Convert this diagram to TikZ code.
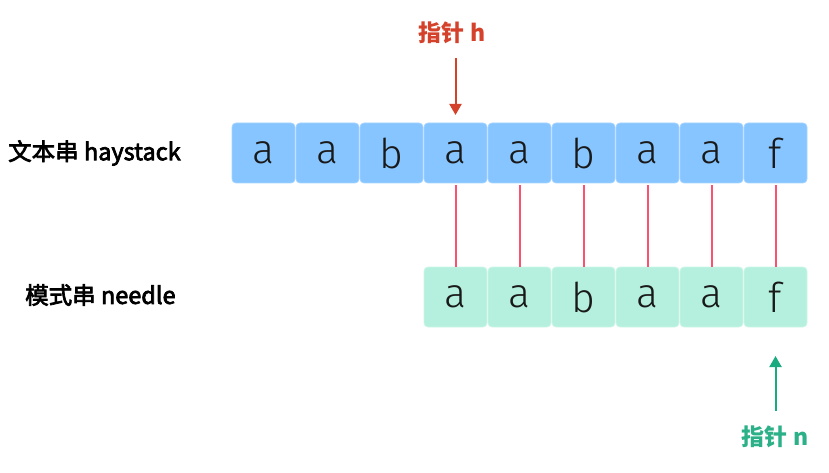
\documentclass[tikz,border=0pt]{standalone}
\usepackage{fontspec}
\setmainfont{Noto Sans CJK SC}
\newfontfamily\medfont[FakeBold=3]{Noto Sans CJK SC}
\newfontfamily\boxfont[UprightFont=* Light]{Fira Sans}
\usetikzlibrary{arrows.meta}
\definecolor{hayblue}{RGB}{134,197,255}
\definecolor{hayedge}{RGB}{165,212,255}
\definecolor{needgreen}{RGB}{180,240,221}
\definecolor{neededge}{RGB}{205,246,232}
\definecolor{linkred}{RGB}{250,82,112}
\definecolor{ptrred}{RGB}{213,66,43}
\definecolor{ptrgreen}{RGB}{26,170,127}
\definecolor{txtgreen}{RGB}{44,176,136}
\definecolor{txtdark}{RGB}{25,25,25}
\tikzset{
  cell/.style={minimum width=63pt, minimum height=60pt, inner sep=0pt, rounded corners=4pt, line width=0.8pt, text=txtdark, font=\boxfont\fontsize{41}{41}\selectfont},
  haycell/.style={cell, fill=hayblue, draw=hayedge},
  needcell/.style={cell, fill=needgreen, draw=neededge},
  conn/.style={linkred, line width=2pt},
  rowlabel/.style={font=\medfont\fontsize{23.5}{23.5}\selectfont, text=black, inner sep=0pt},
  ptrlabel/.style={font=\bfseries\fontsize{23}{23}\selectfont, inner sep=0pt},
  ptrline/.style={line width=2pt, -{Triangle[width=12pt,length=11pt]}}
}
\begin{document}
\begin{tikzpicture}[x=1pt,y=-1pt]
\useasboundingbox (0,0) rectangle (829,473);
% haystack row
\foreach \c [count=\i from 0] in {a,a,b,a,a,b,a,a,f} {
  \node[haycell] (h\i) at (263.5+64*\i,153) {\c};
}
% needle row
\foreach \c [count=\i from 3] in {a,a,b,a,a,f} {
  \node[needcell] (n\i) at (263.5+64*\i,297) {\c};
}
% links
\foreach \i in {3,...,8} {
  \draw[conn] ([yshift=-2pt]h\i.south) -- (n\i.north);
}
% row labels
\node[rowlabel, anchor=west] (lh) at (8,153) {文本串 haystack};
\node[rowlabel, anchor=west] (ln) at (25,295) {模式串 needle};
% pointer h
\node[ptrlabel, text=ptrred] (ph) at (452,33) {指针 h};
\coordinate (phs) at (455.5,58);
\coordinate (phe) at (455.5,115);
\draw[ptrline, ptrred] (phs) -- (phe);
% pointer n
\node[ptrlabel, text=txtgreen] (pn) at (775,437) {指针 n};
\coordinate (pns) at (775.5,411);
\coordinate (pne) at (775.5,356);
\draw[ptrline, ptrgreen] (pns) -- (pne);
\end{tikzpicture}
\end{document}
